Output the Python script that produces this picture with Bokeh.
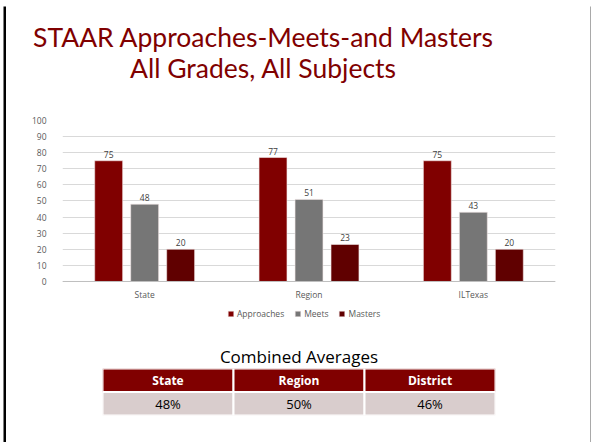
from bokeh.plotting import figure
from bokeh.models import ColumnDataSource, FactorRange, Range1d, Legend, LegendItem, LabelSet, FixedTicker, Span
from bokeh.layouts import column, row
from bokeh.transform import dodge
from bokeh.embed import file_html
from bokeh.resources import INLINE
from bokeh.core.properties import value

# ---- data ----
title_lines = ["STAAR Approaches-Meets-and Masters", "All Grades, All Subjects"]
categories = ["State", "Region", "ILTexas"]
series_names = ["Approaches", "Meets", "Masters"]
approaches = [75, 77, 75]
meets = [48, 51, 43]
masters = [20, 23, 20]
y_ticks = [0, 10, 20, 30, 40, 50, 60, 70, 80, 90, 100]
table_title = "Combined Averages"
table_headers = ["State", "Region", "District"]
table_values = ["48%", "50%", "46%"]

# ---- styles ----
FONT = "Open Sans"
TFONT = "Lato"
W = 584
C_APP = "#800000"
C_MEET = "#767676"
C_MAST = "#600000"
TXT_GRAY = "#595959"


def bare(p):
    p.grid.visible = False
    p.outline_line_color = None
    return p


def bar_fig(w, h, color):
    b = figure(width=w, height=h, output_backend="svg", toolbar_location=None,
               min_border=0, x_axis_location=None, y_axis_location=None,
               frame_align=False)
    bare(b)
    b.background_fill_color = color
    b.border_fill_color = color
    return b


# ---- title figure ----
f1 = figure(width=W, height=100, x_range=Range1d(0, W), y_range=Range1d(100, 0),
            output_backend="svg", toolbar_location=None, min_border=0,
            x_axis_location=None, y_axis_location=None, frame_align=False)
bare(f1)
f1.text(x=[257, 257], y=[30, 61], text=title_lines, text_font=value(TFONT),
        text_font_size="26.5px", text_color="#800000", text_align="center",
        text_baseline="alphabetic")

# ---- chart figure ----
src = ColumnDataSource(dict(
    cat=categories, a=approaches, m=meets, s=masters,
    a_t=[str(v) for v in approaches], m_t=[str(v) for v in meets], s_t=[str(v) for v in masters],
))
# the frame reaches below 0 so that the category labels and legend sit inside it
f2 = figure(width=W, height=224, x_range=FactorRange(*categories, range_padding=0),
            y_range=Range1d(-29.2, 100), output_backend="svg", toolbar_location=None,
            min_border_left=56, min_border_right=35, min_border_top=14, min_border_bottom=2,
            x_axis_location=None, frame_align=False)
f2.outline_line_color = None
f2.xgrid.visible = False
f2.ygrid.grid_line_color = "#d9d9d9"
f2.ygrid.ticker = FixedTicker(ticks=y_ticks)
f2.yaxis.ticker = FixedTicker(ticks=y_ticks)
f2.yaxis.axis_line_color = None
f2.yaxis.major_tick_line_color = None
f2.yaxis.minor_tick_line_color = None
f2.yaxis.major_label_standoff = 10
f2.yaxis.major_label_text_font = FONT
f2.yaxis.major_label_text_font_size = "8.5px"
f2.yaxis.major_label_text_color = TXT_GRAY
f2.add_layout(Span(location=0, dimension="width", line_color="#bfbfbf", line_width=1))

# category labels under the baseline
f2.text(x="cat", y=0, text="cat", source=src, y_offset=13, text_font=value(FONT),
        text_font_size="8.5px", text_color=TXT_GRAY, text_align="center",
        text_baseline="middle")

offs = [-0.219, 0.0, 0.219]
cols = ["a", "m", "s"]
colors = [C_APP, C_MEET, C_MAST]
items = []
for name, col, off, c in zip(series_names, cols, offs, colors):
    r = f2.vbar(x=dodge("cat", off, range=f2.x_range), top=col, width=0.17, source=src,
                fill_color=c, line_color="#f2e6e6", line_width=0.6)
    items.append(LegendItem(label=name, renderers=[r]))
    lbl = LabelSet(x=dodge("cat", off, range=f2.x_range), y=col, text=col + "_t", source=src,
                   text_align="center", text_baseline="bottom", y_offset=3,
                   text_font=value(FONT), text_font_size="8.5px", text_color="#404040")
    f2.add_layout(lbl)

legend = Legend(items=items, orientation="horizontal", location=(165, 9),
                glyph_width=7, glyph_height=7, label_text_font=FONT,
                label_text_font_size="8.5px", label_text_color=TXT_GRAY,
                spacing=10, label_standoff=3, padding=0, margin=0,
                border_line_color=None, background_fill_alpha=0, label_height=9)
f2.add_layout(legend)

# ---- table figure ----
f3 = figure(width=W, height=112, x_range=FactorRange(*table_headers, range_padding=0),
            y_range=Range1d(-0.5, 1.5), output_backend="svg", toolbar_location=None,
            min_border_left=96, min_border_right=95, min_border_top=38, min_border_bottom=27,
            x_axis_location=None, y_axis_location=None, title=table_title,
            frame_align=False)
bare(f3)
f3.title.align = "center"
f3.title.text_font = FONT
f3.title.text_font_size = "17px"
f3.title.text_font_style = "normal"
f3.title.text_color = "#000000"
f3.title.standoff = 1
f3.rect(x=table_headers, y=[1] * 3, width=1, height=1, fill_color="#800000",
        line_color="white", line_width=2)
f3.rect(x=table_headers, y=[0] * 3, width=1, height=1, fill_color="#d9cdcd",
        line_color="white", line_width=2)
f3.text(x=table_headers, y=[1] * 3, text=table_headers, text_font=value(FONT),
        text_font_size="12px", text_font_style="bold", text_color="white",
        text_align="center", text_baseline="middle")
f3.text(x=table_headers, y=[0] * 3, text=table_values, text_font=value(FONT),
        text_font_size="13px", text_color="#000000",
        text_align="center", text_baseline="middle")

# ---- slide frame ----
left_blank = bar_fig(3, 442, "#ffffff")
top_blank = bar_fig(588, 3, "#ffffff")
top_black = bar_fig(588, 3, "#000000")
left_black = bar_fig(3, 436, "#000000")
right_gray = bar_fig(1, 436, "#555555")

content = column(f1, f2, f3, spacing=0)
slide = column(top_blank, top_black, row(left_black, content, right_gray, spacing=0), spacing=0)
layout = row(left_blank, slide, spacing=0)

open("out.html", "w").write(file_html(layout, INLINE))
